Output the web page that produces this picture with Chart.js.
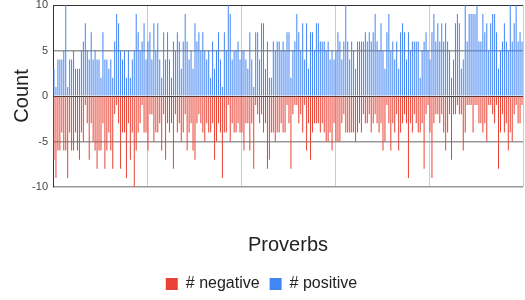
<!DOCTYPE html>
<html>
<head>
<meta charset="utf-8">
<script src="https://cdn.jsdelivr.net/npm/chart.js@4"></script>
<style>
  html, body { margin: 0; padding: 0; background: #fff; }
  #wrap { width: 525px; height: 300px; }
</style>
</head>
<body>
<div id="wrap"><canvas id="chart"></canvas></div>
<script>
// values, one bar per proverb
const positive = [
  3,1,4,4,4,5,10,1,4,4,5,3,3,3,5,6,8,5,4,7,4,5,4,4,2,7,4,4,3,4,
  2,6,9,8,5,4,5,2,5,2,4,5,9,7,5,6,8,4,6,7,4,8,5,8,4,2,7,4,7,4,
  2,6,5,7,6,3,6,9,6,4,5,3,8,6,7,5,7,5,4,5,2,6,3,5,7,4,1,7,5,10,
  9,4,5,5,6,4,5,5,4,3,7,4,1,7,7,4,8,8,3,6,2,2,6,5,6,6,5,6,5,7,
  7,2,5,6,9,7,5,8,4,8,3,7,7,5,8,8,6,6,6,5,6,4,5,4,5,7,6,4,6,10,
  6,4,6,5,3,6,6,6,6,7,6,7,6,7,9,6,5,8,5,3,7,9,5,6,4,6,3,7,8,7,
  4,7,5,6,6,6,6,2,5,6,7,5,4,7,9,6,8,6,8,6,8,6,5,2,4,8,9,8,3,4,
  10,6,9,9,9,9,10,6,6,9,7,8,5,8,9,9,7,3,5,6,8,6,5,10,6,8,10,6,7,6
];
const negative = [
  -7,-9,-6,-6,-4,-6,-6,-9,-4,-6,-6,-4,-6,-7,-4,-5,-1,-3,-7,-3,-5,-6,-8,-6,-6,-3,-8,-6,-4,-6,
  -8,-2,-1,-3,-8,-4,-4,-9,-3,-7,-4,-10,-6,-4,-3,-1,-4,-4,-6,-2,-2,-5,-4,-4,-3,-6,-2,-7,-3,-4,
  -3,-8,-2,-4,-3,-5,-4,-2,-6,-4,-3,-6,-7,-3,-2,-3,-4,-5,-3,-4,-4,-3,-7,-5,-3,-4,-9,-4,-4,-1,
  -5,-3,-4,-4,-3,-4,-4,-6,-3,-3,-6,-3,-8,-1,-2,-3,-2,-4,-3,-8,-7,-4,-4,-5,-4,-4,-3,-4,-4,-1,
  -3,-8,-2,-1,-1,-3,-2,-4,-1,-6,-3,-7,-4,-3,-3,-3,-4,-3,-4,-5,-5,-4,-6,-3,-5,-5,-5,-3,-2,-4,
  -4,-4,-4,-4,-5,-4,-3,-4,-2,-3,-3,-2,-4,-3,-2,-3,-4,-3,-6,-5,-1,-3,-6,-3,-4,-2,-6,-4,-3,-2,
  -3,-9,-3,-4,-2,-3,-4,-4,-3,-8,-2,-1,-4,-9,-3,-2,-2,-3,-2,-4,-6,-4,-2,-7,-2,-2,-1,-2,-2,-6,
  -4,-1,-1,-1,-4,-1,-1,-3,-3,-4,-3,-5,-1,-1,-2,-3,-1,-8,-4,-2,-4,-3,-6,-4,-5,-2,-1,-3,-3,-1
];
const proverbs = positive.map((v, i) => "Proverb " + (i + 1));
const yTicks = [-10, -5, 0, 5, 10];
const xGridStep = 48;

const FONT = "'Liberation Sans', Arial, sans-serif";

new Chart(document.getElementById("chart"), {
  type: "bar",
  data: {
    labels: proverbs,
    datasets: [
      { label: "# negative", data: negative, backgroundColor: "#ea4335" },
      { label: "# positive", data: positive, backgroundColor: "#4285f4" }
    ]
  },
  options: {
    responsive: true,
    maintainAspectRatio: false,
    animation: false,
    datasets: {
      bar: { barThickness: 1, borderWidth: 0, borderColor: "transparent", inflateAmount: 0 }
    },
    layout: { padding: { top: 5, right: 2, left: 0, bottom: -2 } },
    plugins: {
      tooltip: { enabled: false },
      legend: {
        position: "bottom",
        labels: {
          boxWidth: 12, boxHeight: 12, padding: 10,
          color: "#222",
          font: { family: FONT, size: 16 }
        }
      }
    },
    scales: {
      x: {
        stacked: true,
        ticks: { display: false },
        grid: { display: false, drawTicks: false },
        border: { display: false },
        title: {
          display: true, text: "Proverbs", color: "#222",
          font: { family: FONT, size: 20 },
          padding: { top: 46, bottom: 9 }
        }
      },
      // second axis only for the light vertical gridlines
      xg: {
        type: "linear",
        position: "bottom",
        offset: false,
        min: 0, max: proverbs.length,
        afterBuildTicks: s => {
          const t = [];
          for (let v = xGridStep; v <= proverbs.length; v += xGridStep) t.push({ value: v });
          s.ticks = t;
        },
        afterFit: s => { s.height = 0; },
        ticks: { display: false },
        grid: { offset: false, drawTicks: false, color: "#cccccc", lineWidth: 1 },
        border: { display: false }
      },
      y: {
        stacked: true,
        min: -10, max: 10,
        afterBuildTicks: s => { s.ticks = yTicks.map(v => ({ value: v })); },
        afterFit: s => { s.width = 53; s.paddingTop = 0; s.paddingBottom = 0; },
        ticks: {
          color: "#444", padding: 5,
          font: { family: FONT, size: 11 }
        },
        grid: {
          drawTicks: false,
          color: c => (c.tick && (c.tick.value === 0 || c.tick.value === 10)) ? "#333333" : "#999999",
          lineWidth: c => (c.tick && (c.tick.value === 0 || c.tick.value === 10)) ? 1 : 1.5
        },
        border: { display: true, color: "#333333", width: 1 },
        title: {
          display: true, text: "Count", color: "#222",
          font: { family: FONT, size: 20 },
          padding: { top: 10, bottom: 0 }
        }
      }
    }
  }
});
</script>
</body>
</html>
